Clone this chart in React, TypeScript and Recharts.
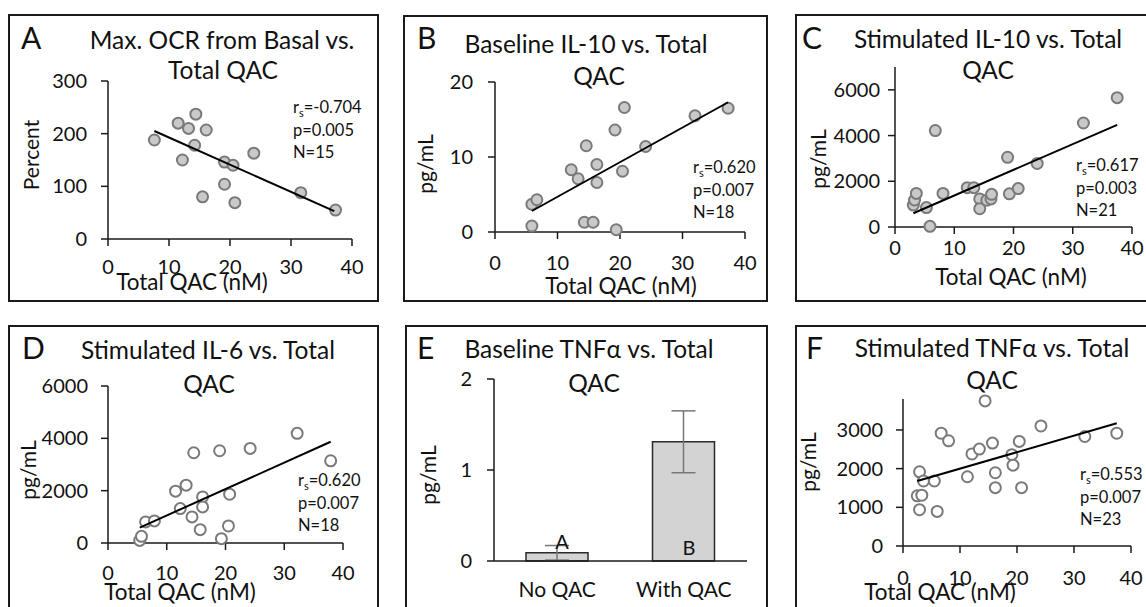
import React from 'react';
import { ScatterChart, Scatter, XAxis, YAxis, BarChart, Bar, ErrorBar } from 'recharts';

const FONT = 'Lato, "Open Sans", sans-serif';
const INK = '#111';

// ---------- DATA ----------
const qacTicks = [0, 10, 20, 30, 40];

// A: Max. OCR from Basal vs Total QAC
const ocrQac = [7.6, 11.5, 13.2, 14.4, 16.1, 14.2, 12.2, 19.1, 20.5, 23.9, 19.1, 15.5, 20.8, 31.6, 37.3];
const ocrPct = [188, 220, 210, 237, 207, 178, 150, 146, 140, 163, 104, 80, 69, 88, 55];
const ocrTrendX = [7.6, 37.1];
const ocrTrendY = [205, 53];
const ocrTicks = [0, 100, 200, 300];

// B: Baseline IL-10
const il10bQac = [5.9, 6.7, 5.9, 12.2, 13.3, 14.6, 16.3, 16.3, 14.3, 15.7, 19.2, 20.7, 20.4, 19.4, 24.1, 32.0, 37.3];
const il10bVal = [3.7, 4.3, 0.8, 8.3, 7.1, 11.5, 9.0, 6.6, 1.3, 1.3, 13.6, 16.6, 8.1, 0.3, 11.4, 15.5, 16.5];
const il10bTrendX = [5.9, 37.3];
const il10bTrendY = [2.8, 17.3];
const il10bTicks = [0, 10, 20];

// C: Stimulated IL-10
const il10sQac = [3.1, 3.3, 3.6, 5.3, 5.9, 6.8, 8.1, 12.2, 13.3, 14.3, 14.3, 15.5, 16.2, 16.3, 19.0, 19.3, 20.8, 24.0, 31.8, 37.5];
const il10sVal = [960, 1180, 1470, 850, 30, 4220, 1470, 1720, 1720, 1230, 800, 1170, 1230, 1430, 3050, 1450, 1680, 2780, 4550, 5660];
const il10sTrendX = [3.1, 37.5];
const il10sTrendY = [600, 4470];
const il10sTicks = [0, 2000, 4000, 6000];

// D: Stimulated IL-6
const il6Qac = [5.4, 5.7, 6.4, 7.9, 11.5, 13.3, 12.3, 14.6, 14.3, 15.7, 16.1, 16.1, 19.0, 19.3, 20.7, 20.5, 24.2, 32.2, 37.9];
const il6Val = [100, 255, 805, 843, 1980, 2210, 1315, 3450, 996, 511, 1762, 1380, 3525, 166, 1865, 651, 3614, 4190, 3142];
const il6TrendX = [5.4, 37.9];
const il6TrendY = [587, 3870];
const il6Ticks = [0, 2000, 4000, 6000];

// E: Baseline TNFa bars
const tnfGroups = ['No QAC', 'With QAC'];
const tnfMeans = [0.09, 1.31];
const tnfErr = [0.08, 0.34];
const tnfLetters = ['A', 'B'];
const tnfTicks = [0, 1, 2];

// F: Stimulated TNFa
const tnfsQac = [2.9, 2.5, 3.3, 2.9, 3.6, 5.5, 6.0, 6.7, 8.0, 11.3, 12.1, 13.4, 14.4, 15.7, 16.2, 16.2, 19.1, 19.3, 20.4, 20.8, 24.2, 31.9, 37.5];
const tnfsVal = [1918, 1296, 1313, 938, 1680, 1680, 895, 2916, 2720, 1790, 2379, 2506, 3751, 2660, 1893, 1509, 2361, 2089, 2703, 1509, 3103, 2830, 2916];
const tnfsTrendX = [2.5, 37.5];
const tnfsTrendY = [1680, 3171];
const tnfsTicks = [0, 1000, 2000, 3000];

const zip = (xs: number[], ys: number[]) => xs.map((x, i) => ({ x, y: ys[i] }));

type Box = { left: number; top: number; w: number; h: number };
type Plot = { x0: number; x1: number; y0: number; y1: number };

const YW = 60;
const XH = 30;
const TICK_FS = 20;

const frameStyle = (b: Box): React.CSSProperties => ({
  position: 'absolute', left: b.left, top: b.top, width: b.w, height: b.h,
  boxSizing: 'border-box', border: '2px solid #1a1a1a', background: '#fff',
});

const marginFor = (b: Box, p: Plot) => {
  const ox = b.left + 2, oy = b.top + 2, w = b.w - 4, h = b.h - 4;
  return { left: p.x0 - ox - YW, right: ox + w - p.x1, top: p.y0 - oy, bottom: oy + h - p.y1 - XH };
};

const axisLine = { stroke: '#1a1a1a', strokeWidth: 1.5 };
const tickStyle = { fill: INK, fontSize: TICK_FS, fontFamily: FONT };

function ScatterPanel(props: {
  box: Box; plot: Plot; yDomain: [number, number]; yTicks: number[];
  pts: { x: number; y: number }[]; trend: { x: number; y: number }[];
  hollow?: boolean; yGap: number; xGap: number;
}) {
  const { box, plot, yDomain, yTicks, pts, trend, hollow, yGap, xGap } = props;
  const fill = hollow ? '#ffffff' : '#c9c9c9';
  return (
    <div style={frameStyle(box)}>
      <ScatterChart width={box.w - 4} height={box.h - 4} margin={marginFor(box, plot)}>
        <XAxis type="number" dataKey="x" domain={[0, 40]} ticks={qacTicks} interval={0} height={XH}
          tickSize={7} tickMargin={xGap} axisLine={axisLine} tickLine={axisLine} tick={tickStyle} />
        <YAxis type="number" dataKey="y" domain={yDomain} ticks={yTicks} interval={0} width={YW}
          tickSize={7} tickMargin={yGap} axisLine={axisLine} tickLine={axisLine} tick={tickStyle} />
        <Scatter data={pts} isAnimationActive={false}
          shape={(p: any) => <circle cx={p.cx} cy={p.cy} r={5.5} fill={fill} stroke="#7a7a7a" strokeWidth={2} />} />
        <Scatter data={trend} isAnimationActive={false} line={{ stroke: '#000', strokeWidth: 2 }}
          shape={() => <g />} />
      </ScatterChart>
    </div>
  );
}

function BarPanel() {
  const box: Box = { left: 405, top: 325, w: 363, h: 290 };
  const plot: Plot = { x0: 494, x1: 747, y0: 379, y1: 561 };
  const data = tnfGroups.map((name, i) => ({ name, v: tnfMeans[i], e: tnfErr[i] }));
  return (
    <div style={frameStyle(box)}>
      <BarChart width={box.w - 4} height={box.h - 4} margin={marginFor(box, plot)} data={data}>
        <XAxis dataKey="name" type="category" height={XH} tickLine={false} tickSize={0} tickMargin={21}
          axisLine={axisLine} tick={{ ...tickStyle, fontSize: 21 }} />
        <YAxis type="number" domain={[0, 2]} ticks={tnfTicks} interval={0} width={YW}
          tickSize={7} tickMargin={15} axisLine={axisLine} tickLine={axisLine} tick={tickStyle} />
        <Bar dataKey="v" barSize={62} fill="#d3d3d3" stroke="#2a2a2a" strokeWidth={1.5} isAnimationActive={false}>
          <ErrorBar dataKey="e" width={12} stroke="#777" strokeWidth={1.5} direction="y" />
        </Bar>
      </BarChart>
    </div>
  );
}

function Sub({ x, y, body }: { x: number; y: number; body: string }) {
  return (
    <text x={x} y={y} fontSize={16.5} fontFamily={FONT} fill={INK}>
      r<tspan fontSize={11} dy={4}>s</tspan><tspan dy={-4}>{body}</tspan>
    </text>
  );
}

function Stats({ x, y, lines }: { x: number; y: number; lines: string[] }) {
  return (
    <g>
      <Sub x={x} y={y} body={lines[0]} />
      <text x={x} y={y + 22.5} fontSize={16.5} fontFamily={FONT} fill={INK}>{lines[1]}</text>
      <text x={x} y={y + 45} fontSize={16.5} fontFamily={FONT} fill={INK}>{lines[2]}</text>
    </g>
  );
}

const TT = ({ x, y, fs = 24.5, anchor = 'middle', children }: any) => (
  <text x={x} y={y} fontSize={fs} textAnchor={anchor} fontFamily={FONT} fill={INK}>{children}</text>
);
const YL = ({ x, y, children }: any) => (
  <text x={x} y={y} fontSize={21} textAnchor="middle" fontFamily={FONT} fill={INK}
    transform={`rotate(-90 ${x} ${y})`}>{children}</text>
);
const XT = 22.5;

function Overlay() {
  return (
    <svg width={1146} height={607} style={{ position: 'absolute', left: 0, top: 0, pointerEvents: 'none' }}>
      {/* A */}
      <TT x={21} y={49} fs={30} anchor="start">A</TT>
      <TT x={222} y={49}>Max. OCR from Basal vs.</TT>
      <TT x={223} y={79}>Total QAC</TT>
      <YL x={39} y={155}>Percent</YL>
      <TT x={192} y={290} fs={XT}>Total QAC (nM)</TT>
      <Stats x={293} y={113} lines={['=-0.704', 'p=0.005', 'N=15']} />
      {/* B */}
      <TT x={417} y={49} fs={30} anchor="start">B</TT>
      <TT x={586} y={53}>Baseline IL-10 vs. Total</TT>
      <TT x={599} y={85}>QAC</TT>
      <YL x={433} y={164}>pg/mL</YL>
      <TT x={621} y={294} fs={XT}>Total QAC (nM)</TT>
      <Stats x={693} y={173} lines={['=0.620', 'p=0.007', 'N=18']} />
      {/* C */}
      <TT x={802} y={49} fs={30} anchor="start">C</TT>
      <TT x={988} y={48}>Stimulated IL-10 vs. Total</TT>
      <TT x={988} y={79}>QAC</TT>
      <YL x={826} y={159}>pg/mL</YL>
      <TT x={1011} y={285} fs={XT}>Total QAC (nM)</TT>
      <Stats x={1076} y={171} lines={['=0.617', 'p=0.003', 'N=21']} />
      {/* D */}
      <TT x={22} y={359} fs={30} anchor="start">D</TT>
      <TT x={208} y={359}>Stimulated IL-6 vs. Total</TT>
      <TT x={209} y={393}>QAC</TT>
      <YL x={36} y={470}>pg/mL</YL>
      <TT x={180} y={600} fs={XT}>Total QAC (nM)</TT>
      <Stats x={298} y={486} lines={['=0.620', 'p=0.007', 'N=18']} />
      {/* E */}
      <TT x={417} y={359} fs={30} anchor="start">E</TT>
      <TT x={589} y={358}>Baseline TNFα vs. Total</TT>
      <TT x={594} y={392}>QAC</TT>
      <YL x={436} y={475}>pg/mL</YL>
      <TT x={562} y={549} fs={20}>{tnfLetters[0]}</TT>
      <TT x={689} y={555} fs={20}>{tnfLetters[1]}</TT>
      {/* F */}
      <TT x={806} y={359} fs={30} anchor="start">F</TT>
      <TT x={992} y={357}>Stimulated TNFα vs. Total</TT>
      <TT x={992} y={389}>QAC</TT>
      <YL x={816} y={462}>pg/mL</YL>
      <TT x={940} y={600} fs={XT}>Total QAC (nM)</TT>
      <Stats x={1080} y={480} lines={['=0.553', 'p=0.007', 'N=23']} />
    </svg>
  );
}

export default function App() {
  return (
    <div style={{ position: 'absolute', left: 0, top: 0, width: 1146, height: 607, overflow: 'hidden', background: '#fff' }}>
      <ScatterPanel box={{ left: 8, top: 14, w: 371, h: 288 }} plot={{ x0: 108, x1: 352, y0: 81, y1: 239 }}
        yDomain={[0, 300]} yTicks={ocrTicks} pts={zip(ocrQac, ocrPct)} trend={zip(ocrTrendX, ocrTrendY)}
        yGap={14} xGap={14} />
      <ScatterPanel box={{ left: 403, top: 15, w: 365, h: 287 }} plot={{ x0: 495, x1: 745, y0: 82, y1: 232 }}
        yDomain={[0, 20]} yTicks={il10bTicks} pts={zip(il10bQac, il10bVal)} trend={zip(il10bTrendX, il10bTrendY)}
        yGap={15} xGap={17} />
      <ScatterPanel box={{ left: 795, top: 14, w: 365, h: 288 }} plot={{ x0: 895, x1: 1132, y0: 67, y1: 227 }}
        yDomain={[0, 7000]} yTicks={il10sTicks} pts={zip(il10sQac, il10sVal)} trend={zip(il10sTrendX, il10sTrendY)}
        yGap={8} xGap={7} />
      <ScatterPanel box={{ left: 8, top: 325, w: 371, h: 290 }} plot={{ x0: 108, x1: 343, y0: 386, y1: 543 }}
        yDomain={[0, 6000]} yTicks={il6Ticks} pts={zip(il6Qac, il6Val)} trend={zip(il6TrendX, il6TrendY)}
        hollow yGap={13} xGap={16} />
      <BarPanel />
      <ScatterPanel box={{ left: 795, top: 325, w: 365, h: 290 }} plot={{ x0: 903, x1: 1131, y0: 399, y1: 546 }}
        yDomain={[0, 3800]} yTicks={tnfsTicks} pts={zip(tnfsQac, tnfsVal)} trend={zip(tnfsTrendX, tnfsTrendY)}
        hollow yGap={13} xGap={18} />
      <Overlay />
    </div>
  );
}
